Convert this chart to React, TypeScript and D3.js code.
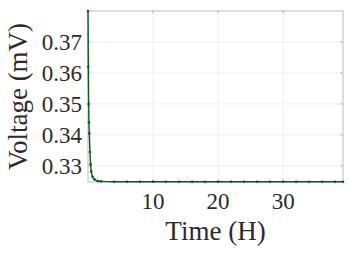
import * as d3 from "d3";
import { useEffect, useRef } from "react";

// time in hours, voltage in mV
const times = [0, 0.05, 0.1, 0.15, 0.2, 0.3, 0.4, 0.5, 0.7, 1.0, 1.5, 2, 4, 6, 8, 10, 12, 14, 16, 18, 20, 22, 24, 26, 28, 30, 32, 34, 36, 38, 39.2];
const voltages = [0.380, 0.362, 0.350, 0.344, 0.3405, 0.3345, 0.3305, 0.3282, 0.3265, 0.3256, 0.3251, 0.3250, 0.3249, 0.3249, 0.3249, 0.3249, 0.3249, 0.3249, 0.3249, 0.3249, 0.3249, 0.3249, 0.3249, 0.3249, 0.3249, 0.3249, 0.3249, 0.3249, 0.3249, 0.3249, 0.3249];
const xTicks = [10, 20, 30];
const yTicks = [0.33, 0.34, 0.35, 0.36, 0.37];

const W = 351;
const H = 253;
const margin = { top: 11, right: 8, bottom: 71, left: 88 };
const font = "'Liberation Serif', 'DejaVu Serif', serif";
const textColor = "#2b2b2b";

const App = () => {
	const ref = useRef(null);

	useEffect(() => {
		document.body.style.margin = "0";
		const svg = d3.select(ref.current);
		svg.selectAll("*").remove();
		const iw = W - margin.left - margin.right;
		const ih = H - margin.top - margin.bottom;

		const x = d3.scaleLinear().domain([0, 39.2]).range([0, iw]);
		const y = d3.scaleLinear().domain([0.3248, 0.38]).range([ih, 0]);

		svg.append("rect").attr("width", W).attr("height", H).attr("fill", "#fff");
		const g = svg.append("g").attr("transform", `translate(${margin.left},${margin.top})`);

		// grid
		g.selectAll(".gx").data(xTicks).enter().append("line")
			.attr("x1", d => x(d)).attr("x2", d => x(d))
			.attr("y1", 0).attr("y2", ih)
			.attr("stroke", "#efefef").attr("stroke-width", 1);
		g.selectAll(".gy").data(yTicks).enter().append("line")
			.attr("x1", 0).attr("x2", iw)
			.attr("y1", d => y(d)).attr("y2", d => y(d))
			.attr("stroke", "#efefef").attr("stroke-width", 1);

		// box
		g.append("rect").attr("width", iw).attr("height", ih)
			.attr("fill", "none").attr("stroke", "#bdbdbd").attr("stroke-width", 1);

		// ticks inward
		xTicks.forEach(t => {
			g.append("line").attr("x1", x(t)).attr("x2", x(t)).attr("y1", 0).attr("y2", 2.5)
				.attr("stroke", "#b0b0b0");
			g.append("line").attr("x1", x(t)).attr("x2", x(t)).attr("y1", ih).attr("y2", ih - 2.5)
				.attr("stroke", "#b0b0b0");
		});
		yTicks.forEach(t => {
			g.append("line").attr("x1", 0).attr("x2", 2.5).attr("y1", y(t)).attr("y2", y(t))
				.attr("stroke", "#b0b0b0");
			g.append("line").attr("x1", iw).attr("x2", iw - 2.5).attr("y1", y(t)).attr("y2", y(t))
				.attr("stroke", "#b0b0b0");
		});

		// tick labels
		g.selectAll(".xl").data(xTicks).enter().append("text")
			.attr("x", d => x(d)).attr("y", ih + 27)
			.attr("text-anchor", "middle")
			.style("font-family", font).style("font-size", "23px").attr("fill", textColor)
			.text(d => d);
		g.selectAll(".yl").data(yTicks).enter().append("text")
			.attr("x", -6).attr("y", d => y(d)).attr("dy", "0.34em")
			.attr("text-anchor", "end")
			.style("font-family", font).style("font-size", "23px").attr("fill", textColor)
			.text(d => d3.format(".2f")(d));

		// axis labels
		svg.append("text")
			.attr("x", margin.left + iw / 2).attr("y", 240)
			.attr("text-anchor", "middle")
			.style("font-family", font).style("font-size", "27px").attr("fill", textColor)
			.text("Time (H)");
		svg.append("text")
			.attr("transform", `translate(27,${margin.top + ih / 2}) rotate(-90)`)
			.attr("text-anchor", "middle")
			.style("font-family", font).style("font-size", "27px").attr("fill", textColor)
			.text("Voltage (mV)");

		// line
		const pts = times.map((t, i) => [t, voltages[i]]);
		const line = d3.line().x(d => x(d[0])).y(d => y(d[1])).curve(d3.curveMonotoneX);
		g.append("path").datum(pts).attr("d", line)
			.attr("fill", "none").attr("stroke", "#0b5a1e").attr("stroke-width", 1.4);
		g.selectAll(".pt").data(pts).enter().append("circle")
			.attr("cx", d => x(d[0])).attr("cy", d => y(d[1])).attr("r", 1.3)
			.attr("fill", "#0b5a1e");
	}, []);

	return <svg ref={ref} width={W} height={H} style={{ display: "block" }}></svg>;
};

export default App;
